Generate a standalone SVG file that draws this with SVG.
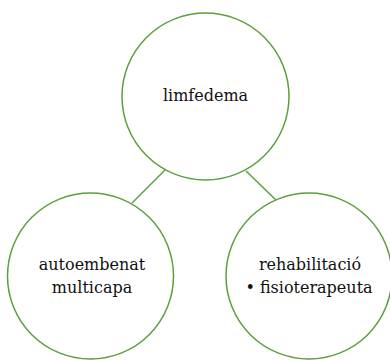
<svg xmlns="http://www.w3.org/2000/svg" width="390" height="360" viewBox="0 0 390 360">
<style>
.node circle{fill:#fff;stroke:#5e9e3e;stroke-width:1.5}
.edge{stroke:#5e9e3e;stroke-width:1.5;fill:none}
.lbl{font-family:'DejaVu Serif',serif;font-size:16px;fill:#111;text-anchor:middle}
</style>
<rect width="390" height="360" fill="#fff"/>
<g id="connectors">
<line class="edge" x1="165" y1="170" x2="132" y2="203"/>
<line class="edge" x1="246" y1="171" x2="276" y2="200"/>
</g>
<g id="limfedema" class="node">
<circle cx="205.5" cy="96.5" r="83.5"/>
<text class="lbl" x="205.5" y="101">limfedema</text>
</g>
<g id="autoembenat" class="node">
<circle cx="90.5" cy="276" r="83"/>
<text class="lbl" x="92" y="270">autoembenat</text>
<text class="lbl" x="92" y="293">multicapa</text>
</g>
<g id="rehabilitacio" class="node">
<circle cx="309" cy="276" r="83"/>
<text class="lbl" x="310" y="270">rehabilitació</text>
<text class="lbl" x="309" y="293">• fisioterapeuta</text>
</g>
</svg>
